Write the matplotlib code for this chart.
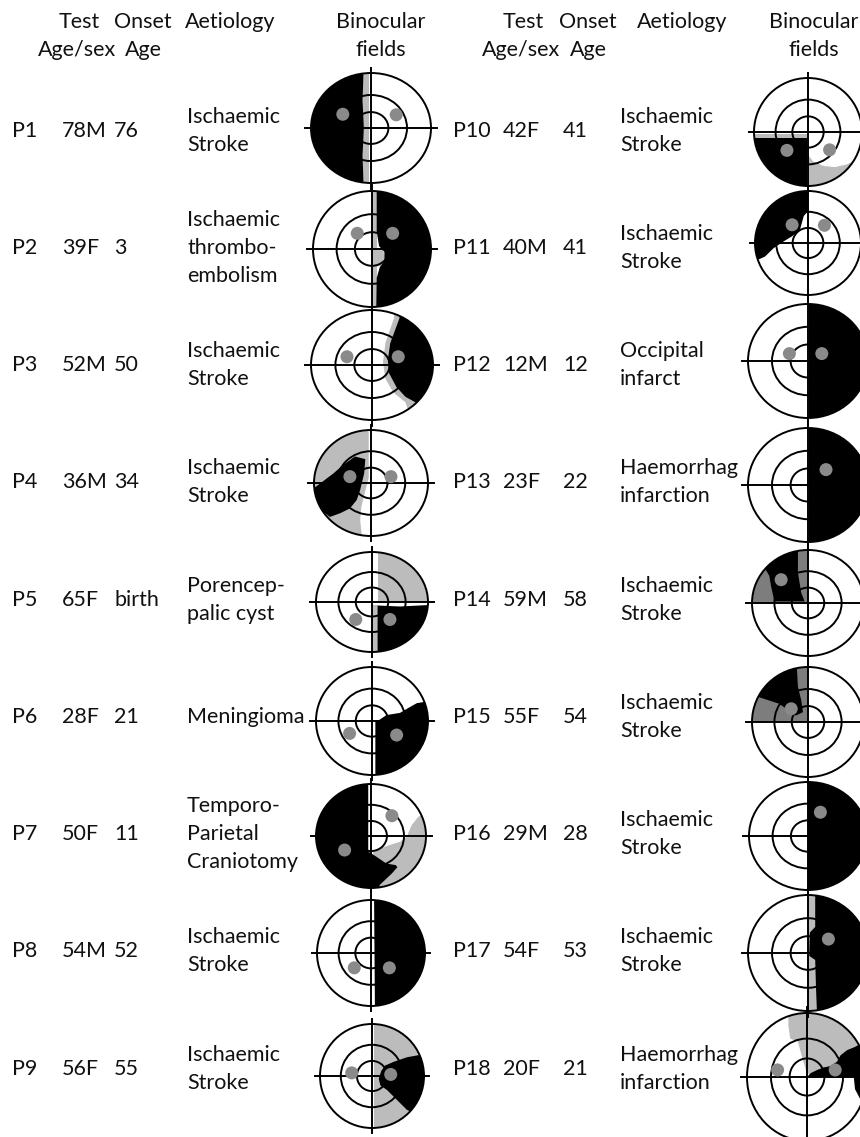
import matplotlib
matplotlib.use("Agg")
from matplotlib import pyplot as plt
from matplotlib.patches import Ellipse, Polygon

plt.rcParams['font.family'] = ['Lato', 'DejaVu Sans']

patients = [f"P{i}" for i in range(1, 19)]
test_age_sex = ["78M", "39F", "52M", "36M", "65F", "28F", "50F", "54M", "56F",
                "42F", "40M", "12M", "23F", "59M", "55F", "29M", "54F", "20F"]
onset_age = ["76", "3", "50", "34", "birth", "21", "11", "52", "55",
             "41", "41", "12", "22", "58", "54", "28", "53", "21"]
IS = ["Ischaemic", "Stroke"]
aetiology = [IS, ["Ischaemic", "thrombo-", "embolism"], IS, IS,
             ["Porencep-", "palic cyst"], ["Meningioma"],
             ["Temporo-", "Parietal", "Craniotomy"], IS, IS,
             IS, IS, ["Occipital", "infarct"], ["Haemorrhag", "infarction"],
             IS, IS, IS, IS, ["Haemorrhag", "infarction"]]

# visual field defects, in field units (radius 1, x to the right, y up)
# each entry: (tone, outline)
p1 = [("light", [(-0.14, 1.2), (-0.04, 1.2), (-0.04, -1.2), (-0.14, -1.2)]),
      ("black", [(-1.2, 1.2), (-0.12, 1.2), (-0.14, 0.5), (-0.12, 0), (-0.14, -0.5),
                 (-0.12, -1.2), (-1.2, -1.2)])]
p2 = [("light", [(0, 1.2), (0.09, 1.2), (0.09, -1.2), (0, -1.2)]),
      ("light", [(0.02, 0.02), (0.19, 0.0), (0.21, -0.15), (0.15, -0.3), (0.02, -0.3)]),
      ("black", [(0.08, 1.2), (0.08, 0.3), (0.12, 0.05), (0.21, -0.05), (0.21, -0.2),
                 (0.13, -0.32), (0.08, -0.5), (0.07, -1.2), (1.2, -1.2), (1.2, 1.2)])]
p3 = [("light", [(0.38, 1.2), (0.36, 0.85), (0.22, 0.4), (0.18, 0.05), (0.22, -0.25),
                 (0.35, -0.5), (0.55, -0.68), (0.7, -1.2), (1.2, -1.2), (1.2, 1.2)]),
      ("black", [(0.48, 1.2), (0.45, 0.85), (0.3, 0.4), (0.26, 0.1), (0.28, -0.15),
                 (0.4, -0.4), (0.55, -0.58), (0.75, -0.7), (0.9, -1.2), (1.2, -1.2), (1.2, 1.2)])]
p4 = [("light", [(-1.2, 1.2), (-0.04, 1.2), (-0.04, 0.1), (-0.1, -0.15), (-0.17, -0.45),
                 (-0.19, -0.7), (-0.14, -1.2), (-1.2, -1.2)]),
      ("black", [(-1.2, 0.0), (-0.98, -0.08), (-0.66, 0.18), (-0.49, 0.34), (-0.28, 0.5),
                 (-0.1, 0.45), (-0.12, 0.18), (-0.19, -0.13), (-0.25, -0.32), (-0.37, -0.48),
                 (-0.54, -0.57), (-0.72, -0.64), (-0.89, -0.5), (-1.2, -0.6)])]
p5 = [("light", [(0.1, 1.2), (1.2, 1.2), (1.2, 0), (0.1, 0)]),
      ("light", [(0, -0.05), (0.1, -0.05), (0.1, -1.2), (0, -1.2)]),
      ("black", [(0.1, -0.07), (0.5, -0.09), (1.2, -0.05), (1.2, -1.2), (0.1, -1.2)])]
p6 = [("black", [(0.06, -1.2), (0.06, 0.0), (0.1, 0.0), (0.26, 0.11), (0.5, 0.15),
                 (0.68, 0.26), (0.8, 0.33), (1.2, 0.4), (1.2, -1.2)])]
p7 = [("light", [(1.2, 0.46), (1.01, 0.44), (0.86, 0.37), (0.74, 0.21), (0.65, -0.01),
                 (0.53, -0.11), (0.35, -0.17), (0.16, -0.24), (0.04, -0.3), (0.04, -1.2),
                 (1.2, -1.2)]),
      ("black", [(-1.2, 1.2), (-0.05, 1.2), (-0.05, -0.3), (0.1, -0.4), (0.28, -0.53),
                 (0.45, -0.56), (0.48, -0.6), (0.38, -0.72), (0.25, -0.85), (0.16, -0.94),
                 (0.1, -1.2), (-1.2, -1.2)])]
p8 = [("black", [(0.05, 1.2), (1.2, 1.2), (1.2, -1.2), (0.07, -1.2)])]
p9 = [("light", [(0.03, 1.2), (1.2, 1.2), (1.2, -1.2), (0.03, -1.2)]),
      ("black", [(0.13, -0.05), (0.18, 0.1), (0.25, 0.2), (0.41, 0.27), (0.67, 0.36),
                 (1.0, 0.42), (1.2, 0), (1.0, -0.8), (0.67, -0.65), (0.48, -0.46),
                 (0.29, -0.27), (0.16, -0.18)])]
p10 = [("light", [(-1.2, -0.03), (-0.02, -0.03), (-0.02, -0.12), (-1.2, -0.12)]),
       ("black", [(-1.2, -0.12), (-0.01, -0.12), (-0.01, -1.2), (-1.2, -1.2)]),
       ("light", [(0.0, -0.42), (0.1, -0.55), (0.29, -0.63), (0.5, -0.65), (0.72, -0.6),
                  (0.82, -0.55), (0.82, -1.2), (0, -1.2)])]
p11 = [("black", [(0, 1.2), (0, 0.61), (-0.08, 0.52), (-0.15, 0.26), (-0.3, 0.13),
                  (-0.46, 0.03), (-0.65, -0.1), (-0.81, -0.26), (-0.94, -0.32),
                  (-1.2, -0.35), (-1.2, 1.2)])]
p12 = [("black", [(0.02, 1.2), (1.2, 1.2), (1.2, -1.2), (0.02, -1.2)])]
p13 = [("black", [(0.01, 1.2), (1.2, 1.2), (1.2, -1.2), (0.01, -1.2)])]
p14 = [("dark", [(-1.2, 0), (-1.2, 1.2), (0, 1.2), (0, 0)]),
       ("black", [(-0.81, 0.73), (-0.63, 0.86), (-0.18, 1.2), (-0.18, 0.57), (-0.12, 0.19),
                  (-0.06, 0.03), (-0.6, 0.03), (-0.66, 0.32), (-0.69, 0.51)])]
p15 = [("dark", [(-1.2, 0), (-1.2, 1.2), (0, 1.2), (0, 0)]),
       ("black", [(-1.2, 0.52), (-0.96, 0.52), (-0.87, 0.45), (-0.69, 0.39), (-0.51, 0.33),
                  (-0.39, 0.24), (-0.33, 0.14), (-0.21, 0.12), (-0.09, 0.18), (-0.12, 0.39),
                  (-0.18, 0.64), (-0.21, 1.2), (-1.2, 1.2)])]
p16 = [("black", [(0, 1.2), (1.2, 1.2), (1.2, -1.2), (0, -1.2)])]
p17 = [("light", [(0, 1.2), (0.14, 1.2), (0.14, -1.2), (0, -1.2)]),
       ("black", [(0.12, 1.2), (0.12, 0.45), (0.03, 0.35), (0.02, -0.05), (0.12, -0.12),
                  (0.15, -1.2), (1.2, -1.2), (1.2, 1.2)])]
p18 = [("light", [(-0.31, 1.2), (-0.31, 0.8), (-0.28, 0.6), (-0.15, 0.55), (-0.08, 0.3),
                  (0, 0.05), (1.2, 0.05), (1.2, 1.2)]),
       ("black", [(0, 0), (0.06, 0.06), (0.17, 0.11), (0.28, 0.15), (0.39, 0.17),
                  (0.5, 0.24), (0.56, 0.34), (0.67, 0.42), (0.8, 0.47), (0.89, 0.52),
                  (1.2, 0.6), (1.2, -0.4), (0.89, -0.35), (0.8, -0.19), (0.78, 0)])]
fields = [p1, p2, p3, p4, p5, p6, p7, p8, p9, p10, p11, p12, p13, p14, p15, p16, p17, p18]

# blind spot markers in field units
spots = [[(-0.47, 0.25), (0.42, 0.24)], [(-0.25, 0.27), (0.35, 0.27)],
         [(-0.41, 0.15), (0.43, 0.15)], [(-0.37, 0.12), (0.35, 0.12)],
         [(-0.29, -0.35), (0.32, -0.35)], [(-0.4, -0.23), (0.44, -0.26)],
         [(-0.48, -0.27), (0.38, 0.39)], [(-0.31, -0.28), (0.34, -0.28)],
         [(-0.39, 0.06), (0.36, 0.03)], [(-0.39, -0.34), (0.4, -0.33)],
         [(-0.3, 0.35), (0.31, 0.34)], [(-0.31, 0.13), (0.23, 0.13)],
         [(0.3, 0.27)], [(-0.48, 0.44)], [(-0.3, 0.24)], [(0.21, 0.44)],
         [(0.34, 0.24)], [(-0.49, 0.11), (0.47, 0.11)]]

# layout (pixels)
TONES = {"black": "black", "light": "#bcbcbc", "dark": "#7d7d7d"}
RINGS = [1.0, 0.6, 0.29]
ROW_Y = [131, 248, 365, 482, 600, 717, 834, 951, 1069]
COLS = [dict(p=12, age=62, onset=114, aet=187, h_test=79, h_onset=143, h_aet=230, h_bin=381),
        dict(p=453, age=503, onset=563, aet=620, h_test=523, h_onset=588, h_aet=682, h_bin=814)]
CIRCLES = [(371, 128, 60, 55), (372, 249, 59, 58), (372, 365, 61, 55), (371, 483, 57, 53),
           (372, 602, 56, 50), (372, 721, 56, 54), (371, 836, 55, 52), (371, 953, 54, 53),
           (372, 1076, 52, 52),
           (808, 132, 54, 54), (808, 243, 53, 52), (808, 361, 60, 57), (808, 485, 60, 57),
           (808, 603, 56, 53), (808, 722, 56, 55), (808, 836, 59, 54), (808, 953, 60, 58),
           (807, 1077, 60, 64)]
FS = 15.5
LINE = 28.5
INK = "#111111"


def draw_field(ax, cx, cy, rx, ry, layers, dots):
    rim = Ellipse((cx, cy), 2 * rx, 2 * ry, facecolor="white", edgecolor="none", zorder=1)
    ax.add_patch(rim)
    for tone, outline in layers:
        pts = [(cx + x * rx, cy - y * ry) for x, y in outline]
        poly = Polygon(pts, closed=True, facecolor=TONES[tone], edgecolor="none", zorder=2)
        ax.add_patch(poly)
        poly.set_clip_path(rim)
    for k in RINGS:
        ax.add_patch(Ellipse((cx, cy), 2 * rx * k, 2 * ry * k, fill=False,
                             edgecolor="black", lw=1.4, zorder=3))
    ax.plot([cx - 1.1 * rx, cx + 1.1 * rx], [cy, cy], color="black", lw=1.4, zorder=3)
    ax.plot([cx, cx], [cy - 1.1 * ry, cy + 1.1 * ry], color="black", lw=1.4, zorder=3)
    for x, y in dots:
        ax.add_patch(Ellipse((cx + x * rx, cy - y * ry), 13, 13, facecolor="#8a8a8a",
                             edgecolor="none", zorder=4))


fig = plt.figure(figsize=(8.6, 11.37), dpi=100)
ax = fig.add_axes([0, 0, 1, 1])
ax.set_xlim(0, 860)
ax.set_ylim(1137, 0)
ax.axis("off")

for c in COLS:
    kw = dict(fontsize=FS, ha="center", va="center", color=INK)
    ax.text(c["h_test"], 22, "Test", **kw)
    ax.text(c["h_test"] - 2, 22 + LINE, "Age/sex", **kw)
    ax.text(c["h_onset"], 22, "Onset", **kw)
    ax.text(c["h_onset"], 22 + LINE, "Age", **kw)
    ax.text(c["h_aet"], 22, "Aetiology", **kw)
    ax.text(c["h_bin"], 22, "Binocular", **kw)
    ax.text(c["h_bin"], 22 + LINE, "fields", **kw)

for i in range(18):
    c = COLS[i // 9]
    y = ROW_Y[i % 9]
    ax.text(c["p"], y, patients[i], fontsize=FS, va="center", color=INK)
    ax.text(c["age"], y, test_age_sex[i], fontsize=FS, va="center", color=INK)
    ax.text(c["onset"], y, onset_age[i], fontsize=FS, va="center", color=INK)
    lines = aetiology[i]
    for k, line in enumerate(lines):
        ax.text(c["aet"], y + (k - (len(lines) - 1) / 2) * LINE, line,
                fontsize=FS, va="center", color=INK, zorder=5)
    cx, cy, rx, ry = CIRCLES[i]
    draw_field(ax, cx, cy, rx, ry, fields[i], spots[i])

fig.savefig("out.png", dpi=100)
